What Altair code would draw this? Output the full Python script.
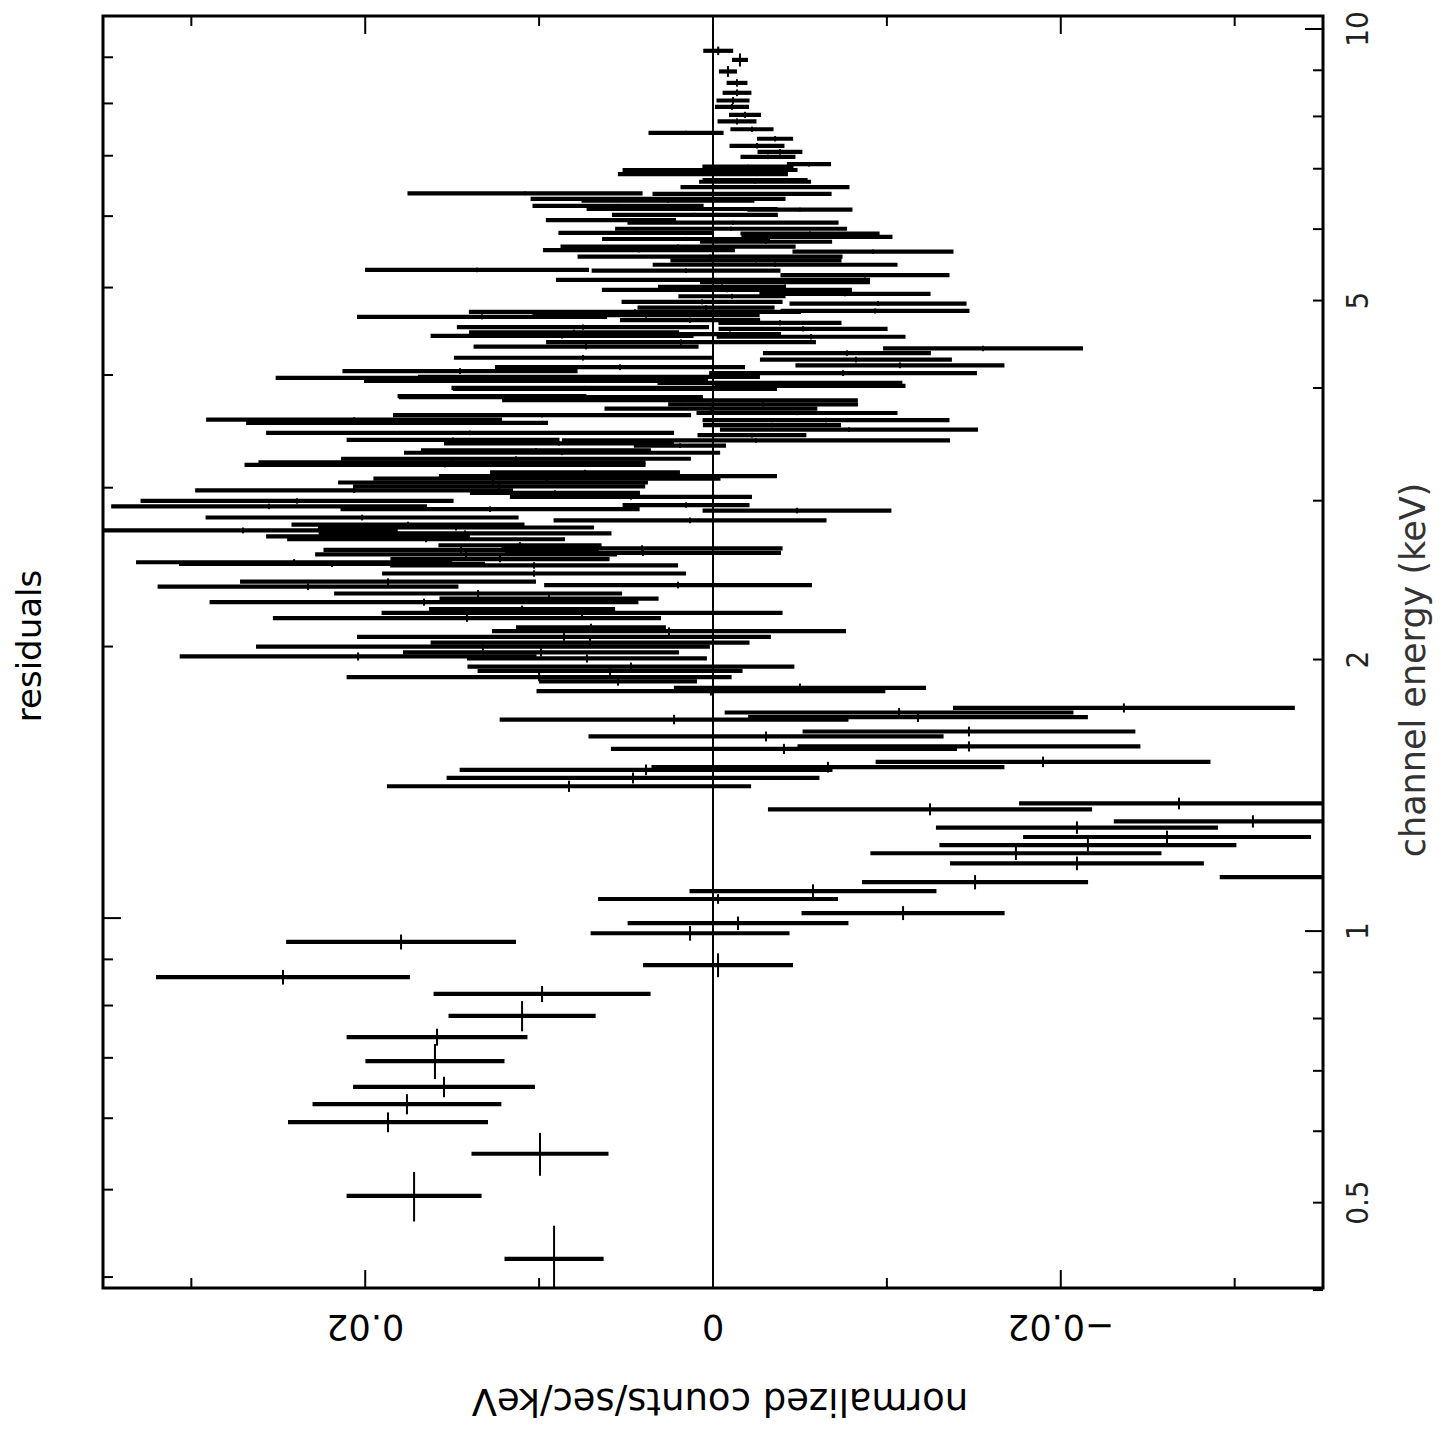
import altair as alt
import pandas as pd

# ---- data (energy in keV, residual in normalized counts/sec/keV) ----
energy = [
    9.15, 8.94, 8.68, 8.43, 8.22, 8.06, 7.93, 7.77, 7.64, 7.49,
    7.42, 7.31, 7.18, 7.07, 6.98, 6.85, 6.81, 6.75, 6.68, 6.58,
    6.55, 6.46, 6.36, 6.35, 6.27, 6.24, 6.16, 6.11, 6.10, 6.02,
    5.94, 5.90, 5.81, 5.75, 5.74, 5.69, 5.66, 5.62, 5.55, 5.50,
    5.48, 5.41, 5.36, 5.30, 5.23, 5.22, 5.16, 5.10, 5.07, 5.01,
    4.97, 4.92, 4.89, 4.82, 4.80, 4.75, 4.71, 4.70, 4.66, 4.64,
    4.60, 4.57, 4.52, 4.50, 4.46, 4.44, 4.42, 4.41, 4.35, 4.30,
    4.28, 4.23, 4.18, 4.16, 4.10, 4.08, 4.04, 4.02, 3.98, 3.97,
    3.94, 3.92, 3.89, 3.87, 3.86, 3.79, 3.78, 3.75, 3.71, 3.67,
    3.63, 3.61, 3.57, 3.565, 3.54, 3.52, 3.48, 3.45, 3.43, 3.39,
    3.385, 3.36, 3.34, 3.30, 3.28, 3.23, 3.20, 3.18, 3.12, 3.09,
    3.07, 3.04, 3.01, 2.98, 2.96, 2.93, 2.90, 2.87, 2.86, 2.84,
    2.83, 2.78, 2.76, 2.73, 2.71, 2.69, 2.67, 2.65, 2.63, 2.59,
    2.57, 2.56, 2.54, 2.53, 2.50, 2.48, 2.47, 2.46, 2.41, 2.36,
    2.34, 2.33, 2.29, 2.26, 2.24, 2.20, 2.18, 2.15, 2.10, 2.08,
    2.05, 2.02, 2.00, 1.97, 1.95, 1.94, 1.90, 1.88, 1.85, 1.83,
    1.80, 1.785, 1.71, 1.69, 1.67, 1.66, 1.61, 1.59, 1.55, 1.54,
    1.49, 1.47, 1.46, 1.43, 1.40, 1.34, 1.32, 1.28, 1.26, 1.23,
    1.205, 1.18, 1.15, 1.11, 1.096, 1.071, 1.050, 1.013, 0.987, 0.962,
    0.941, 0.887, 0.860, 0.824, 0.779, 0.738, 0.694, 0.650, 0.622, 0.594,
    0.548, 0.492, 0.419,
]
energy_halfwidth = [
    0.10, 0.15, 0.12, 0.08, 0.07, 0.07, 0.06, 0.06, 0.06, 0.05,
    0.04, 0.05, 0.05, 0.05, 0.04, 0.04, 0.03, 0.03, 0.03, 0.03,
    0.03, 0.03, 0.03, 0.03, 0.03, 0.03, 0.03, 0.03, 0.03, 0.03,
    0.03, 0.03, 0.03, 0.03, 0.03, 0.03, 0.03, 0.03, 0.03, 0.03,
    0.03, 0.03, 0.03, 0.03, 0.03, 0.03, 0.03, 0.03, 0.03, 0.03,
    0.03, 0.03, 0.03, 0.03, 0.03, 0.03, 0.03, 0.03, 0.03, 0.03,
    0.03, 0.03, 0.03, 0.03, 0.03, 0.03, 0.03, 0.03, 0.03, 0.03,
    0.03, 0.03, 0.03, 0.03, 0.03, 0.03, 0.03, 0.03, 0.02, 0.02,
    0.02, 0.02, 0.02, 0.02, 0.02, 0.02, 0.02, 0.02, 0.02, 0.02,
    0.02, 0.02, 0.02, 0.02, 0.02, 0.02, 0.02, 0.02, 0.02, 0.02,
    0.02, 0.02, 0.02, 0.02, 0.02, 0.02, 0.02, 0.02, 0.02, 0.02,
    0.02, 0.02, 0.02, 0.02, 0.02, 0.02, 0.02, 0.02, 0.02, 0.02,
    0.02, 0.02, 0.02, 0.02, 0.02, 0.02, 0.02, 0.02, 0.02, 0.02,
    0.02, 0.02, 0.02, 0.02, 0.02, 0.02, 0.02, 0.02, 0.02, 0.02,
    0.02, 0.02, 0.02, 0.02, 0.02, 0.02, 0.02, 0.02, 0.02, 0.02,
    0.02, 0.02, 0.02, 0.02, 0.02, 0.02, 0.02, 0.02, 0.02, 0.02,
    0.02, 0.02, 0.02, 0.02, 0.02, 0.02, 0.02, 0.02, 0.02, 0.02,
    0.02, 0.02, 0.02, 0.02, 0.02, 0.02, 0.02, 0.02, 0.02, 0.02,
    0.02, 0.02, 0.02, 0.02, 0.02, 0.019, 0.013, 0.018, 0.017, 0.018,
    0.018, 0.027, 0.016, 0.017, 0.030, 0.016, 0.031, 0.017, 0.016, 0.015,
    0.030, 0.031, 0.037,
]
residual = [
    -0.0003, -0.00155, -0.00086, -0.00138, -0.00138, -0.00115, -0.00109, -0.00184, -0.00138, -0.00224,
    0.00155, -0.00357, -0.00253, -0.00385, -0.00316, -0.00552, -0.00201, 0.00017, 0.00058, -0.00242,
    -0.00242, -0.00299, 0.01081, -0.00167, 0.00316, 0.00259, 0.00546, 0.00178, -0.0050, 0.00104,
    0.00587, -0.00115, -0.00104, 0.00443, -0.00558, -0.00598, 0.00155, -0.00305, 0.00201, 0.00426,
    -0.0092, 0.00017, -0.00247, -0.00357, 0.01357, 0.00155, -0.00874, 0.0, -0.00414, -0.00052,
    -0.0008, -0.00759, -0.00109, 0.00063, -0.00949, 0.0004, -0.00932, 0.00449, 0.00385, 0.01328,
    0.00132, -0.00385, 0.00748, -0.00518, 0.00799, -0.00098, 0.00868, -0.00564, 0.00184, 0.0073,
    -0.01553, -0.0077, 0.00748, -0.00822, -0.01075, 0.00535, 0.01455, -0.00748, 0.00713, 0.01828,
    0.01018, -0.00385, -0.00558, 0.00736, 0.00564, 0.01271, 0.00932, 0.0019, -0.00288, 0.00012,
    -0.00483, 0.00983, 0.02064, -0.0065, 0.01817, -0.00339, -0.00782, 0.01397, -0.00224, 0.01495,
    -0.00247, 0.00886, 0.0019, 0.01018, 0.00868, 0.01133, 0.01501, 0.01541, 0.00736, 0.00604,
    0.00955, 0.01265, 0.0123, 0.02064, 0.00909, 0.00472, 0.02392, 0.00155, 0.02553, 0.01282,
    -0.00483, 0.02018, 0.00132, 0.01754, 0.01478, 0.02703, 0.01426, 0.01984, 0.0165, 0.0111,
    0.00408, 0.01449, 0.00403, 0.0142, 0.01225, 0.02409, 0.02191, 0.01029, 0.01029, 0.01869,
    0.00201, 0.02329, 0.01351, 0.00943, 0.01662, 0.01098, 0.00753, 0.01415, 0.00702, 0.00253,
    0.00857, 0.00707, 0.01323, 0.00989, 0.02041, 0.00725, 0.00472, 0.00592, 0.0100, 0.00546,
    -0.0050, 0.00012, -0.02363, -0.0107, -0.01179, 0.00224, -0.01472, -0.00305, -0.01472, -0.00408,
    -0.01898, -0.00661, 0.00385, 0.0046, 0.00828, -0.0268, -0.01248, -0.03105, -0.02093, -0.02611,
    -0.02156, -0.01742, -0.02093, -0.03634, -0.01507, -0.00575, -0.00029, -0.01093, -0.00144, 0.00132,
    0.01794, -0.00029, 0.02473, 0.00983, 0.01098, 0.01587, 0.01599, 0.01547, 0.0176, 0.01869,
    0.00995, 0.01719, 0.00914,
]
residual_error = [
    0.00086, 0.00046, 0.00052, 0.0006, 0.00083, 0.00095, 0.00098, 0.00092, 0.00112, 0.00124,
    0.00216, 0.00104, 0.00158, 0.00129, 0.00158, 0.00127, 0.00262, 0.00503, 0.00489, 0.00302,
    0.00322, 0.00486, 0.00676, 0.00515, 0.00733, 0.00497, 0.00492, 0.00549, 0.00302, 0.00477,
    0.00374, 0.00607, 0.00667, 0.00446, 0.0040, 0.00434, 0.00483, 0.0038, 0.00676, 0.00552,
    0.00463, 0.00762, 0.00492, 0.00704, 0.00644, 0.00543, 0.00486, 0.00903, 0.00489, 0.00368,
    0.00719, 0.00492, 0.00308, 0.00463, 0.00509, 0.00394, 0.00543, 0.00955, 0.00653, 0.00719,
    0.00403, 0.00354, 0.00725, 0.00486, 0.00604, 0.00293, 0.00756, 0.00543, 0.00776, 0.00647,
    0.00575, 0.00483, 0.00742, 0.00552, 0.00601, 0.00719, 0.00676, 0.0077, 0.00983, 0.00687,
    0.00989, 0.00704, 0.00549, 0.00768, 0.00932, 0.00543, 0.00874, 0.01023, 0.00546, 0.00612,
    0.00578, 0.00857, 0.00851, 0.0071, 0.00868, 0.00397, 0.00742, 0.01173, 0.00313, 0.00612,
    0.01116, 0.00661, 0.00265, 0.00661, 0.00909, 0.01006, 0.01113, 0.01153, 0.00546, 0.00972,
    0.00998, 0.00891, 0.0084, 0.00914, 0.00489, 0.00696, 0.0090, 0.00365, 0.00908, 0.0086,
    0.00543, 0.0090, 0.00785, 0.0067, 0.00794, 0.0089, 0.00842, 0.00586, 0.00799, 0.00469,
    0.00808, 0.00791, 0.00794, 0.00868, 0.0063, 0.00909, 0.0088, 0.00828, 0.00874, 0.00851,
    0.0077, 0.00865, 0.00828, 0.0063, 0.01233, 0.00535, 0.01153, 0.01116, 0.00431, 0.01018,
    0.0119, 0.00917, 0.01305, 0.00794, 0.01026, 0.0069, 0.0094, 0.00762, 0.01107, 0.00454,
    0.00725, 0.01003, 0.00983, 0.01003, 0.00977, 0.01003, 0.00957, 0.01021, 0.00986, 0.00995,
    0.00963, 0.01015, 0.01072, 0.01072, 0.01047, 0.0092, 0.00932, 0.0080, 0.00811, 0.00828,
    0.00854, 0.00837, 0.0073, 0.0072, 0.0065, 0.0071, 0.0069, 0.00584, 0.00635, 0.00572,
    0.00661, 0.00431, 0.0073, 0.00624, 0.00423, 0.0052, 0.0040, 0.00523, 0.00543, 0.00575,
    0.00394, 0.00388, 0.00285,
]

# ---- axis ticks / labels ----
x_label_values = [0.02, 0, -0.02]
x_major_ticks = [0.02, -0.02]
x_minor_ticks = [0.03, 0.01, -0.01, -0.03]
e_label_values = [0.5, 1, 2, 5, 10]
e_major_ticks = [1, 10]
e_minor_ticks = [0.4, 0.5, 0.6, 0.7, 0.8, 0.9, 2, 3, 4, 5, 6, 7, 8, 9]
zero_line = [0]
x_title = "normalized counts/sec/keV"
y_title = "channel energy (keV)"
plot_title = "residuals"

W, H = 1220, 1272
FONT = "DejaVu Sans"
NARROW = "DejaVu Sans Condensed, DejaVu Sans"

df = pd.DataFrame({"E": energy, "dE": energy_halfwidth, "r": residual, "s": residual_error})

xs = alt.Scale(domain=[-0.03508, 0.03508], reverse=True, nice=False, zero=False)
ys = alt.Scale(type="log", domain=[0.389, 10], nice=False)

base = alt.Chart(df)

hbars = base.transform_calculate(
    lo="datum.r - datum.s", hi="datum.r + datum.s"
).mark_rule(color="black", strokeWidth=4.2, clip=True).encode(
    x=alt.X("lo:Q", scale=xs, axis=None),
    x2="hi:Q",
    y=alt.Y("E:Q", scale=ys, axis=None),
)

vbars = base.transform_calculate(
    elo="datum.E - datum.dE", ehi="datum.E + datum.dE"
).mark_rule(color="black", strokeWidth=2, clip=True).encode(
    x=alt.X("r:Q", scale=xs, axis=None),
    y=alt.Y("elo:Q", scale=ys, axis=None),
    y2="ehi:Q",
)

zero = alt.Chart(pd.DataFrame({"z": zero_line})).mark_rule(color="black", strokeWidth=2).encode(
    x=alt.X("z:Q", scale=xs, axis=None), y=alt.value(0), y2=alt.value(H)
)

xmaj = pd.DataFrame({"t": x_major_ticks})
xmin = pd.DataFrame({"t": x_minor_ticks})
emaj = pd.DataFrame({"t": e_major_ticks})
emin = pd.DataFrame({"t": e_minor_ticks})


def xtick(d, y0, y1):
    return alt.Chart(d).mark_rule(color="black", strokeWidth=2).encode(
        x=alt.X("t:Q", scale=xs, axis=None), y=alt.value(y0), y2=alt.value(y1)
    )


def etick(d, x0, x1, off=0):
    return alt.Chart(d).mark_rule(color="black", strokeWidth=2, yOffset=off).encode(
        y=alt.Y("t:Q", scale=ys, axis=None), x=alt.value(x0), x2=alt.value(x1)
    )


ticks = [
    xtick(xmaj, H, H - 18), xtick(xmin, H, H - 10),
    xtick(xmaj, 0, 18), xtick(xmin, 0, 10),
    etick(emaj, 0, 18), etick(emin, 0, 10),
    etick(emaj, W, W - 18, 13), etick(emin, W, W - 10, 13),
]

# tick labels (rotated like the scanned, turned figure)
x_labels = alt.Chart(pd.DataFrame({"v": x_label_values})).mark_text(
    angle=180, align="center", baseline="middle", font=FONT, fontSize=35, color="black"
).encode(
    x=alt.X("v:Q", scale=xs, axis=None),
    y=alt.value(H + 38),
    text=alt.Text("v:Q", format="~g"),
)

e_labels = alt.Chart(pd.DataFrame({"v": e_label_values})).mark_text(
    angle=270, align="center", baseline="middle", font=NARROW, fontSize=31,
    color="#222222", yOffset=13,
).encode(
    y=alt.Y("v:Q", scale=ys, axis=None),
    x=alt.value(W + 36),
    text=alt.Text("v:Q", format="~g"),
)

texts = pd.DataFrame({
    "label": [x_title, y_title, plot_title],
})

x_title_mark = alt.Chart(texts).transform_filter(
    alt.datum.label == x_title
).mark_text(
    angle=180, align="center", baseline="middle", font=FONT, fontSize=37, color="black"
).encode(text="label:N", x=alt.value(617), y=alt.value(H + 112))

y_title_mark = alt.Chart(texts).transform_filter(
    alt.datum.label == y_title
).mark_text(
    angle=270, align="center", baseline="middle", font=FONT, fontSize=35, color="#333333"
).encode(text="label:N", x=alt.value(W + 91), y=alt.value(654))

p_title_mark = alt.Chart(texts).transform_filter(
    alt.datum.label == plot_title
).mark_text(
    angle=270, align="center", baseline="middle", font=FONT, fontSize=34, color="black"
).encode(text="label:N", x=alt.value(-72), y=alt.value(630))

chart = alt.layer(
    hbars, vbars, zero, *ticks, x_labels, e_labels, x_title_mark, y_title_mark, p_title_mark
).properties(
    width=W, height=H,
    autosize=alt.AutoSizeParams(type="none"),
    padding={"left": 95, "top": 8, "right": 113, "bottom": 142},
).configure_view(stroke="black", strokeWidth=3)

chart.save("out.html", embed_options={"renderer": "svg", "actions": False})
